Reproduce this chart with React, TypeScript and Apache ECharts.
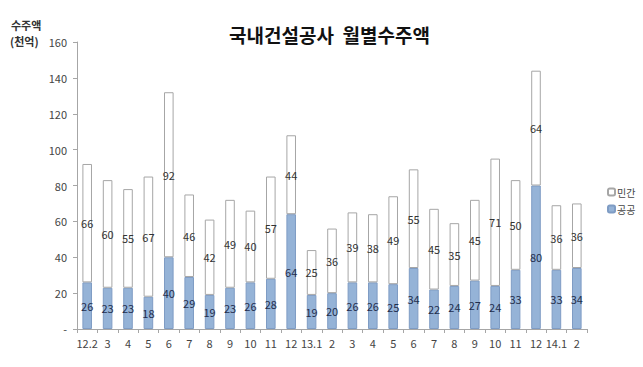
import React, { useEffect, useRef } from "react";
import * as echarts from "echarts";

const categories = ["12.2", "3", "4", "5", "6", "7", "8", "9", "10", "11", "12", "13.1", "2", "3", "4", "5", "6", "7", "8", "9", "10", "11", "12", "14.1", "2"];
const publicValues = [26, 23, 23, 18, 40, 29, 19, 23, 26, 28, 64, 19, 20, 26, 26, 25, 34, 22, 24, 27, 24, 33, 80, 33, 34];
const privateValues = [66, 60, 55, 67, 92, 46, 42, 49, 40, 57, 44, 25, 36, 39, 38, 49, 55, 45, 35, 45, 71, 50, 64, 36, 36];

const FONT = "'Noto Sans CJK KR', 'Noto Sans', sans-serif";

export default function App() {
  const ref = useRef<HTMLDivElement>(null);
  useEffect(() => {
    if (!ref.current) return;
    const chart = echarts.init(ref.current, null, { renderer: "svg" });
    chart.setOption({
      animation: false,
      backgroundColor: "#ffffff",
      textStyle: { fontFamily: FONT },
      title: {
        text: "국내건설공사  월별수주액",
        left: 224,
        top: 20,
        textStyle: { fontFamily: FONT, fontSize: 19, fontWeight: "bold", color: "#111" },
      },
      graphic: [
        { type: "text", left: 11, top: 19, style: { text: "수주액", fontFamily: FONT, fontSize: 11, fontWeight: "bold", fill: "#333" } },
        { type: "text", left: 10, top: 35, style: { text: "(천억)", fontFamily: FONT, fontSize: 11, fontWeight: "bold", fill: "#333" } },
      ],
      legend: {
        orient: "vertical",
        left: 602,
        top: 182,
        itemWidth: 7,
        itemHeight: 7,
        itemGap: 7,
        data: ["민간", "공공"],
        textStyle: { fontFamily: FONT, fontSize: 10, color: "#444", padding: [0, 0, 0, -3] },
      },
      grid: { left: 77, right: 56, top: 42, bottom: 38 },
      xAxis: {
        type: "category",
        data: categories,
        axisLine: { lineStyle: { color: "#a6a6a6" } },
        axisTick: { show: true, length: 4, lineStyle: { color: "#a6a6a6" } },
        axisLabel: { color: "#444", fontSize: 11, fontFamily: FONT, margin: 8, interval: 0 },
      },
      yAxis: {
        type: "value",
        min: 0,
        max: 160,
        interval: 20,
        splitLine: { show: false },
        axisLine: { show: true, lineStyle: { color: "#a6a6a6" } },
        axisTick: { show: true, length: 4, lineStyle: { color: "#a6a6a6" } },
        axisLabel: {
          color: "#444",
          fontSize: 11,
          fontFamily: FONT,
          margin: 10,
          formatter: (v: number) => (v === 0 ? "-" : String(v)),
        },
      },
      series: [
        {
          name: "공공",
          type: "bar",
          stack: "total",
          barWidth: "47%",
          data: publicValues,
          itemStyle: { color: "#95b3d7", borderColor: "#7f9cc4", borderWidth: 1 },
          label: { show: true, position: "inside", color: "#1f2d4d", fontSize: 11, fontFamily: FONT },
        },
        {
          name: "민간",
          type: "bar",
          stack: "total",
          barWidth: "47%",
          data: privateValues,
          itemStyle: { color: "#ffffff", borderColor: "#a6a6a6", borderWidth: 1 },
          label: { show: true, position: "inside", color: "#333", fontSize: 11, fontFamily: FONT },
        },
      ],
    });
    return () => chart.dispose();
  }, []);
  return <div ref={ref} style={{ width: 643, height: 367, position: "absolute", left: 0, top: 0 }} />;
}
